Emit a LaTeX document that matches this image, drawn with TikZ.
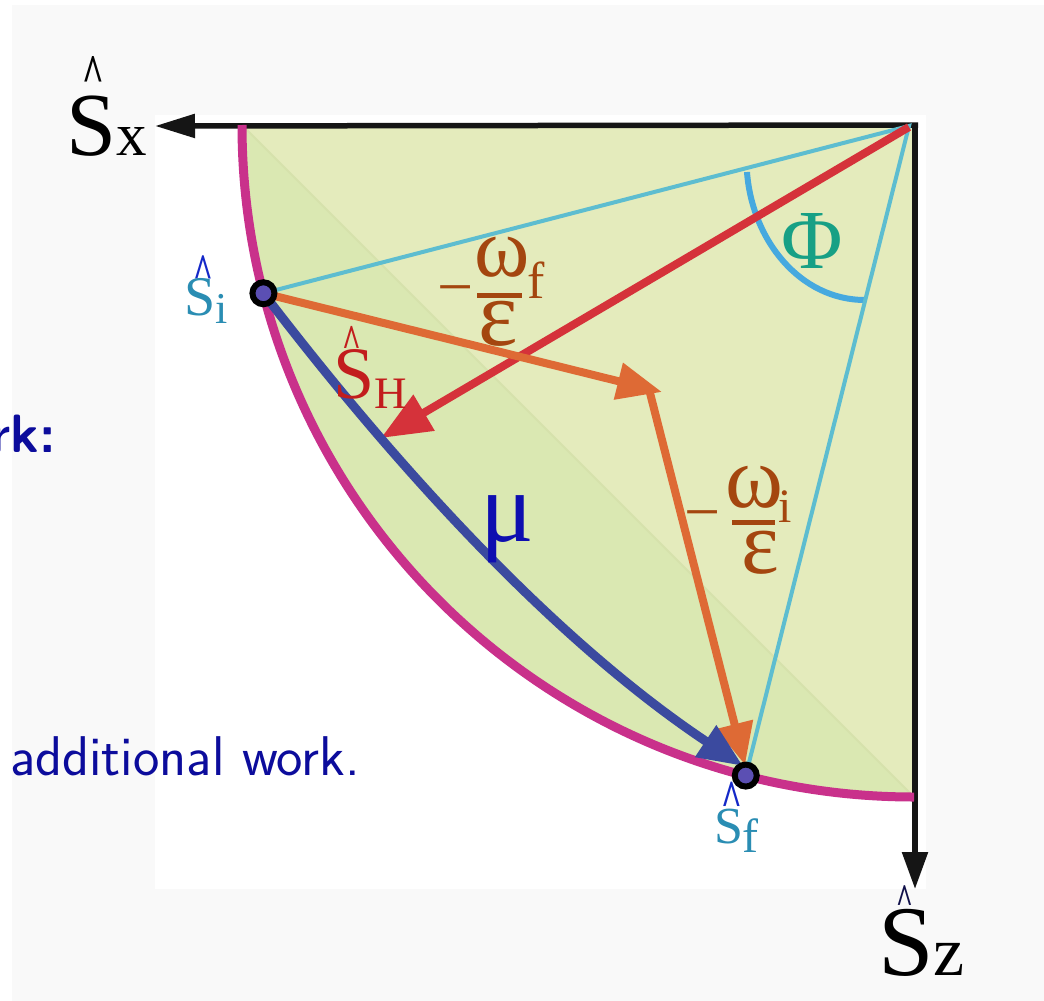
\documentclass[tikz,border=0pt]{standalone}
\usepackage{fontspec}
\usepackage{graphicx}
\setmainfont{Liberation Serif}
\usetikzlibrary{arrows.meta}
\definecolor{slidegray}{HTML}{F9F9F9}
\definecolor{greenlow}{HTML}{DAE8B2}
\definecolor{greenhigh}{HTML}{E4EBBC}
\definecolor{chordcol}{HTML}{D6E2AC}
\definecolor{axisblack}{HTML}{151515}
\definecolor{magentac}{HTML}{C9318B}
\definecolor{bluec}{HTML}{3B4A9F}
\definecolor{redc}{HTML}{D5323A}
\definecolor{orangec}{HTML}{DE6A35}
\definecolor{cyanl}{HTML}{5DBDD0}
\definecolor{phiarc}{HTML}{46A9DF}
\definecolor{phitext}{HTML}{17A085}
\definecolor{sitext}{HTML}{2A8DB3}
\definecolor{hatblue}{HTML}{1428C8}
\definecolor{hatdark}{HTML}{10104A}
\definecolor{shred}{HTML}{C21D1D}
\definecolor{brownc}{HTML}{A4460F}
\definecolor{muc}{HTML}{0E0EB0}
\definecolor{navytext}{HTML}{0C0C9C}
\definecolor{dotpurple}{HTML}{5B4FB3}
\newcommand\myfs[1]{\fontsize{#1}{#1}\selectfont}
% #1 S size, #2 hat colour, #3 hat size, #4 hat hshift, #5 hat raise
\newcommand\hatS[5]{\makebox[0pt][l]{\hspace{#4}\raisebox{#5}{\color{#2}\myfs{#3}\bfseries\scalebox{0.85}[1.25]{\textasciicircum}}}\myfs{#1}S}
\begin{document}
\begin{tikzpicture}[x=1pt,y=1pt,
  lbl/.style={inner sep=0pt,outer sep=0pt},
  axisln/.style={draw=axisblack,line width=5.5pt},
  dotnode/.style={circle,draw=black,line width=6pt,fill=dotpurple,minimum size=22pt,inner sep=0pt}]
\useasboundingbox (0,0) rectangle (1044,-1001);
% backgrounds
\fill[white] (0,0) rectangle (1044,-1001);
\fill[slidegray] (12,-5) rectangle (1044,-1001);
\fill[white] (155,-115) rectangle (926,-889);
% key points
\coordinate (C) at (914,-125);
\coordinate (A) at (242,-125);
\coordinate (B) at (914,-797);
\path (C) ++(194.5:672) coordinate (si);
\path (C) ++(255.5:672) coordinate (sf);
\coordinate (O) at (915,-125);
\coordinate (Ox) at (918,-125);
\coordinate (xt) at (155,-126);
\coordinate (zt) at (915,-889);
\coordinate (Oc) at (909,-126);
\coordinate (Ored) at (909,-127);
\coordinate (ht) at (381,-438);
\coordinate (k1) at (662,-392);
\coordinate (k2) at (650,-393);
\coordinate (ft) at (745,-765);
\coordinate (bt) at (743,-766);
% green quarter disk
\fill[greenlow] (C) -- (A) arc[start angle=180,end angle=270,radius=672] -- cycle;
\fill[greenhigh] (C) -- (A) -- (B) -- cycle;
\draw[chordcol,line width=2pt] (A) -- (B);
% axes
\draw[axisln,-{Triangle[length=40pt,width=23pt]}] (Ox) -- (xt);
\draw[axisln,-{Triangle[length=37pt,width=25pt]}] (O) -- (zt);
% magenta arc
\draw[magentac,line width=9pt] (A) arc[start angle=180,end angle=270,radius=672];
% Phi arc
\draw[phiarc,line width=6pt] (747,-172) .. controls (752,-240) and (800,-300) .. (865,-300);
% cyan lines
\draw[cyanl,line width=4pt] (si) -- (Oc) -- (sf);
% red arrow
\draw[redc,line width=8pt,-{Triangle[length=50pt,width=40pt]}] (Ored) -- (ht);
% orange arrows
\draw[orangec,line width=8pt,-{Triangle[length=45pt,width=36pt]}] (si) -- (k1);
\draw[orangec,line width=8pt,-{Triangle[length=42pt,width=36pt]}] (k2) -- (ft);
% blue arc arrow
\draw[bluec,line width=9pt,-{Triangle[length=45pt,width=36pt]}] (si) .. controls (400,-472) and (557,-642) .. (bt);
% dots
\node[dotnode] (siDot) at (si) {};
\node[dotnode] (sfDot) at (sf) {};
% labels
\node[lbl,anchor=base west] (lSx) at (66,-155) {\hatS{90}{black}{44}{16pt}{63pt}\myfs{61}x};
\node[lbl,anchor=base west] (lSz) at (878,-975) {\hatS{100}{hatdark}{34}{18.7pt}{62pt}\myfs{70}z};
\node[lbl,anchor=base west,text=sitext] (lSi) at (184,-315) {\hatS{56}{hatblue}{40}{9.5pt}{26.5pt}\myfs{44}\raisebox{-8pt}{i}};
\node[lbl,anchor=base west,text=sitext] (lSf) at (714,-843) {\hatS{52}{hatblue}{42}{7.6pt}{26.7pt}\myfs{48}\raisebox{-9pt}{f}};
\node[lbl,anchor=base west,text=shred] (lSH) at (333,-398) {\hatS{74}{shred}{38}{9.9pt}{40.5pt}\myfs{45}\raisebox{-10pt}{H}};
% -omega_f / epsilon
\node[lbl,text=brownc] (mf) at (456,-297) {\myfs{64}−};
\node[lbl,anchor=base,text=brownc] (wf) at (502,-276) {\myfs{84}ω};
\node[lbl,anchor=base west,text=brownc] (subf) at (527,-298) {\myfs{52}f};
\node[lbl,anchor=base,text=brownc] (ef) at (498,-345) {\myfs{94}ε};
\draw[brownc,line width=5pt] (477,-295) -- (522,-295);
% -omega_i / epsilon
\node[lbl,text=brownc] (mi) at (703,-522) {\myfs{64}−};
\node[lbl,anchor=base,text=brownc] (wi) at (754,-507) {\myfs{88}ω};
\node[lbl,anchor=base west,text=brownc] (subi) at (778,-522) {\myfs{48}i};
\node[lbl,anchor=base,text=brownc] (ei) at (760,-573) {\myfs{90}ε};
\draw[brownc,line width=5pt] (732,-522) -- (775,-522);
% mu and Phi
\node[lbl,anchor=base west,text=muc] (mu) at (480,-541) {\myfs{100}μ};
\node[lbl,anchor=base,text=phitext] (phi) at (812,-268) {\myfs{84}Φ};
% slide text
\node[lbl,anchor=base east,text=navytext] (rk) at (56,-452) {\sffamily\bfseries\myfs{54}rk:};
\node[lbl,anchor=base west,text=navytext] (addw) at (10,-775) {\sffamily\myfs{56}additional work.};
\end{tikzpicture}
\end{document}
